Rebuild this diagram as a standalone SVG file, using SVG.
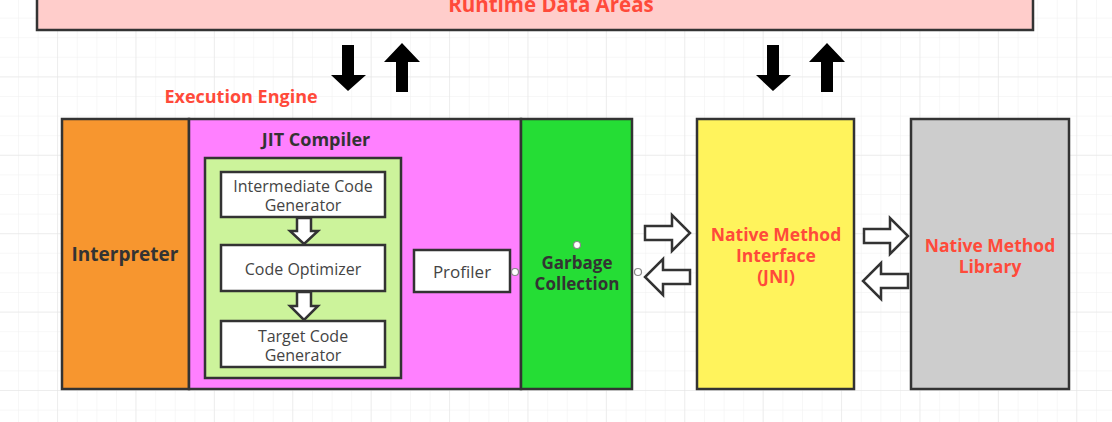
<svg xmlns="http://www.w3.org/2000/svg" width="1112" height="422" viewBox="0 0 1112 422">
<defs>
<pattern id="g" x="18" y="-2" width="19.6" height="19.6" patternUnits="userSpaceOnUse">
<path d="M0 0H19.6M0 0V19.6" stroke="#efefef" stroke-width="1" fill="none"/>
</pattern>
<pattern id="G" x="57" y="-2" width="78.4" height="78.4" patternUnits="userSpaceOnUse">
<path d="M0 0H78.4M0 0V78.4" stroke="#e4e4e4" stroke-width="1" fill="none"/>
</pattern>
<style>
.box{stroke:#333;stroke-width:2.5}
.lbl{font-family:"Open Sans","Noto Sans",sans-serif;font-weight:bold;text-anchor:middle;dominant-baseline:central}
.red{fill:#ff4a3a;font-size:17.5px}
.dark{fill:#333;font-size:17px}
.reg{font-family:"Open Sans","Noto Sans",sans-serif;text-anchor:middle;dominant-baseline:central;fill:#444;font-size:16px}
.hollow{fill:#fff;stroke:#333;stroke-width:2.5;stroke-linejoin:miter}
.solid{fill:#000}
.pt{fill:#fff;stroke:#888;stroke-width:1.2}
</style>
</defs>
<rect width="1112" height="422" fill="#fff"/>
<rect width="1112" height="422" fill="url(#g)"/>
<rect width="1112" height="422" fill="url(#G)"/>

<g id="runtime-data-areas">
<rect class="box" x="37" y="-10" width="996" height="40" fill="#ffcdcb"/>
<text class="lbl red" x="551" y="4" style="font-size:20.5px">Runtime Data Areas</text>
</g>

<g id="execution-engine-label">
<text class="lbl red" x="241" y="96" style="font-size:18px">Execution Engine</text>
</g>

<g id="interpreter">
<rect class="box" x="62" y="119" width="127" height="270" fill="#f7962f"/>
<text class="lbl dark" x="125" y="254" style="font-size:19px">Interpreter</text>
</g>

<g id="jit-compiler">
<rect class="box" x="189" y="119" width="332" height="270" fill="#ff80ff"/>
<text class="lbl dark" x="316" y="139" style="font-size:18px">JIT Compiler</text>
<rect class="box" x="205" y="158" width="196" height="220" fill="#ccf39b"/>
</g>

<g id="intermediate-code-generator">
<rect class="box" x="221" y="172" width="164" height="45" fill="#fff"/>
<text class="reg" x="303" y="186">Intermediate Code</text>
<text class="reg" x="303" y="205">Generator</text>
</g>

<g id="code-optimizer">
<rect class="box" x="221" y="245" width="164" height="46" fill="#fff"/>
<text class="reg" x="303" y="269">Code Optimizer</text>
</g>

<g id="target-code-generator">
<rect class="box" x="221" y="321" width="164" height="46" fill="#fff"/>
<text class="reg" x="303" y="336">Target Code</text>
<text class="reg" x="303" y="355">Generator</text>
</g>

<g id="profiler">
<rect class="box" x="414" y="250" width="96" height="42" fill="#fff"/>
<text class="reg" x="462" y="271" style="font-size:17px">Profiler</text>
</g>

<g id="garbage-collection">
<rect class="box" x="521" y="119" width="111" height="270" fill="#25dd35"/>
<text class="lbl dark" x="577" y="262">Garbage</text>
<text class="lbl dark" x="577" y="283">Collection</text>
</g>

<g id="jni">
<rect class="box" x="697" y="119" width="157" height="270" fill="#fff35c"/>
<text class="lbl red" x="776" y="234">Native Method</text>
<text class="lbl red" x="776" y="255">Interface</text>
<text class="lbl red" x="776" y="276">(JNI)</text>
</g>

<g id="native-method-library">
<rect class="box" x="911" y="119" width="158" height="270" fill="#cdcdcd"/>
<text class="lbl red" x="990" y="245">Native Method</text>
<text class="lbl red" x="990" y="266">Library</text>
</g>

<g id="connectors">
<path class="solid" d="M342 45H354V75H366L348 91L331 75H342Z"/>
<path class="solid" d="M402 43L420 62H408V92H396V62H384Z"/>
<path class="solid" d="M767 45H779V75H791L773 91L756 75H767Z"/>
<path class="solid" d="M827 43L845 62H833V92H821V62H809Z"/>
<path class="hollow" d="M297 218H311V231H318L304 244L290 231H297Z"/>
<path class="hollow" d="M297 292H311V306H318L304 320L290 306H297Z"/>
<path class="hollow" d="M645 226H672V215L690 233L672 251V240H645Z"/>
<path class="hollow" d="M690 270H663V259L645 277L663 295V284H690Z"/>
<path class="hollow" d="M864 229H890V218L908 236L890 254V243H864Z"/>
<path class="hollow" d="M908 274H881V263L863 281L881 299V288H908Z"/>
<circle class="pt" cx="577" cy="245" r="3.5"/>
<circle class="pt" cx="515" cy="272" r="3.5"/>
<circle class="pt" cx="638" cy="272" r="3.5"/>
</g>
</svg>
